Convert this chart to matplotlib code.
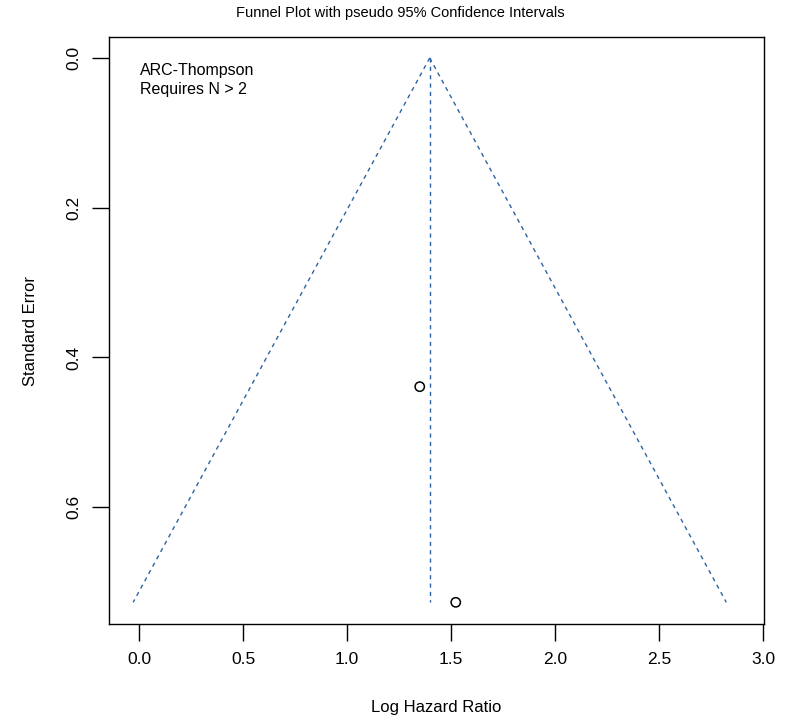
import numpy as np
import matplotlib
matplotlib.use("Agg")
import matplotlib.pyplot as plt

plt.rcParams["font.family"] = ["Liberation Sans", "DejaVu Sans"]

# study estimates (log hazard ratio) and standard errors
log_hr = [1.349, 1.522]
se = [0.439, 0.727]
pooled = 1.397
se_max = 0.727
x_ticks = [0.0, 0.5, 1.0, 1.5, 2.0, 2.5, 3.0]
y_ticks = [0.0, 0.2, 0.4, 0.6]

fig = plt.figure(figsize=(8.0, 7.21), dpi=100)
ax = fig.add_axes([0.13625, 0.1345, 0.81875, 0.8142])

line_col = "#2b64a0"
se_line = np.array([0.0, se_max])
ax.plot(pooled - 1.96 * se_line, se_line, ls=(0, (3, 3)), color=line_col, lw=1)
ax.plot(pooled + 1.96 * se_line, se_line, ls=(0, (3, 3)), color=line_col, lw=1)
ax.plot([pooled, pooled], [0, se_max], ls=(0, (3, 3)), color=line_col, lw=1)

ax.scatter(log_hr, se, s=45, facecolors="none", edgecolors="black", linewidths=1.1, zorder=3)

ax.set_xlim(-0.144, 3.003)
ax.set_ylim(0.756, -0.028)
ax.set_xticks(x_ticks)
ax.set_xticklabels([f"{v:.1f}" for v in x_ticks], fontsize=12.5)
ax.set_yticks(y_ticks)
ax.set_yticklabels([f"{v:.1f}" for v in y_ticks], fontsize=12.5, rotation=90, va="center")
ax.tick_params(direction="out", length=12, width=1, pad=8)

ax.set_xlabel("Log Hazard Ratio", fontsize=12, labelpad=24)
ax.set_ylabel("Standard Error", fontsize=12, labelpad=20)
fig.text(0.5, 0.982, "Funnel Plot with pseudo 95% Confidence Intervals",
         ha="center", va="center", fontsize=10.5)

ax.text(0.005, 0.007, "ARC-Thompson\nRequires N > 2", fontsize=11.5,
        ha="left", va="top", linespacing=1.28)

for s in ax.spines.values():
    s.set_linewidth(1)

fig.savefig("out.png", dpi=100)
